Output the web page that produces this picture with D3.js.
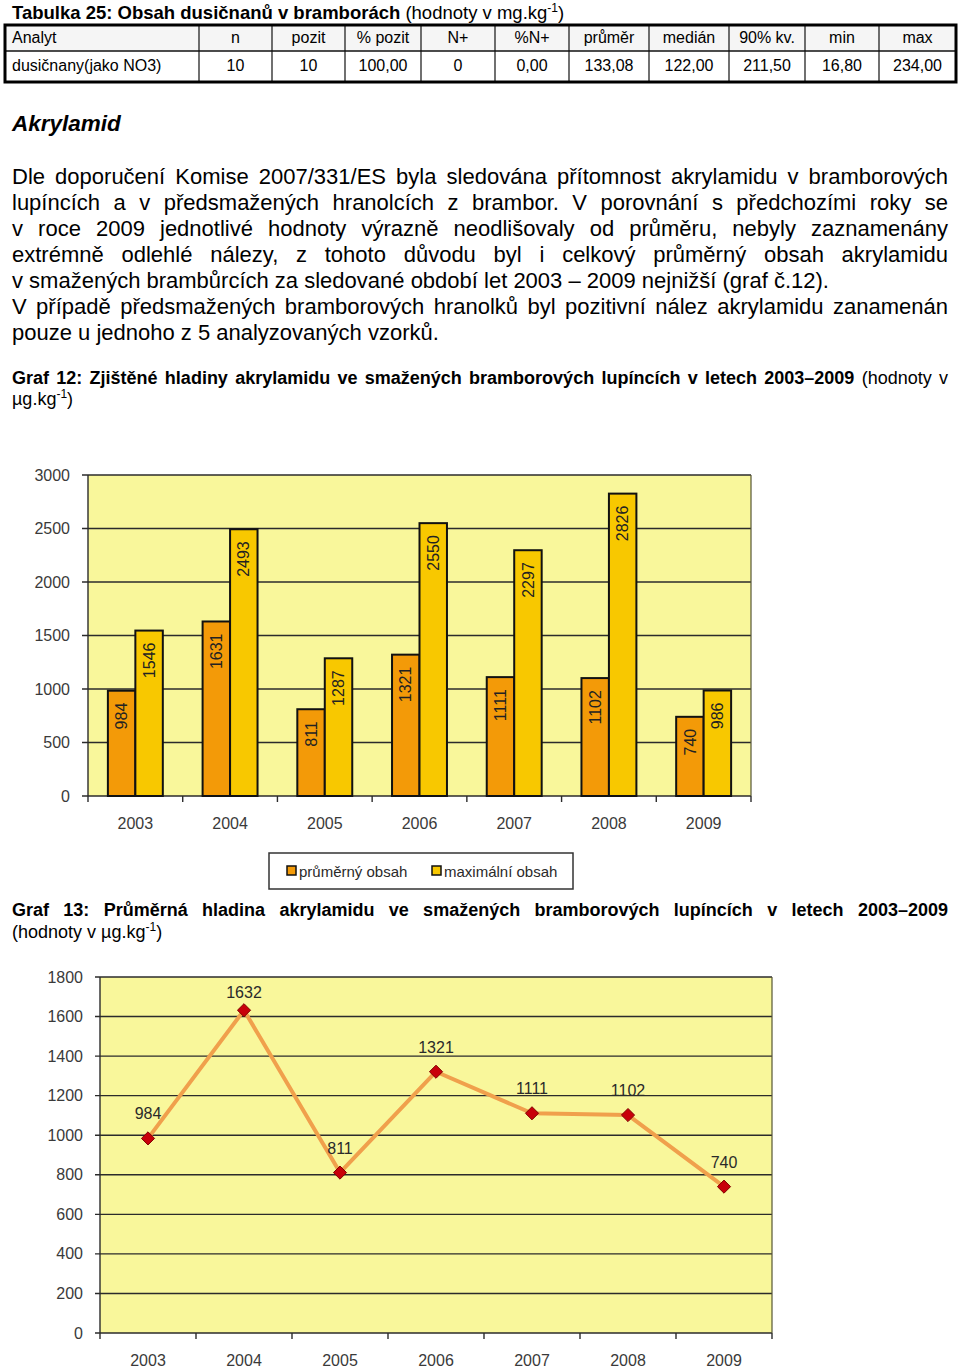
<!DOCTYPE html>
<html><head><meta charset="utf-8">
<script src="https://cdn.jsdelivr.net/npm/d3@7/dist/d3.min.js"></script>
<style>
html,body{margin:0;padding:0;background:#fff;}
svg{display:block;font-family:"Liberation Sans",Arial,sans-serif;}
</style></head>
<body>
<svg id="page" width="960" height="1369"></svg>
<script>
// ---------- DATA ----------
const tableHeader = ["Analyt","n","pozit","% pozit","N+","%N+","průměr","medián","90% kv.","min","max"];
const tableRow = ["dusičnany(jako NO3)","10","10","100,00","0","0,00","133,08","122,00","211,50","16,80","234,00"];

const years = ["2003","2004","2005","2006","2007","2008","2009"];
const avgContent = [984, 1631, 811, 1321, 1111, 1102, 740];
const maxContent = [1546, 2493, 1287, 2550, 2297, 2826, 986];
const barTicks = [0, 500, 1000, 1500, 2000, 2500, 3000];

const lineValues = [984, 1632, 811, 1321, 1111, 1102, 740];
const lineTicks = [0, 200, 400, 600, 800, 1000, 1200, 1400, 1600, 1800];

const legendLabels = ["průměrný obsah", "maximální obsah"];

const paragraph = [
  ["Dle doporučení Komise 2007/331/ES byla sledována přítomnost akrylamidu v bramborových", true],
  ["lupíncích a v předsmažených hranolcích z brambor. V porovnání s předchozími roky se", true],
  ["v roce 2009 jednotlivé hodnoty výrazně neodlišovaly od průměru, nebyly zaznamenány", true],
  ["extrémně odlehlé nálezy, z tohoto důvodu byl i celkový průměrný obsah akrylamidu", true],
  ["v smažených brambůrcích za sledované období let 2003 – 2009 nejnižší (graf č.12).", false],
  ["V případě předsmažených bramborových hranolků byl pozitivní nález akrylamidu zanamenán", true],
  ["pouze u jednoho z 5 analyzovaných vzorků.", false]
];

// ---------- COLORS ----------
const C_AVG = "#F39A08", C_MAX = "#F8C800", C_BG = "#F9F79B", C_GRID = "#2b2b2b";

const svg = d3.select("#page");
const LEFT = 12, RIGHT = 948;

function justify(textSel, width){
  const node = textSel.node();
  const w = node.getComputedTextLength();
  const s = (textSel.text().match(/ /g) || []).length;
  if (s > 0) textSel.attr("word-spacing", (width - w) / s);
}

// ---------- TITLE ----------
const title = svg.append("text").attr("x", LEFT).attr("y", 18.5).attr("font-size", 18.5);
title.append("tspan").attr("font-weight", "bold").text("Tabulka 25: Obsah dusičnanů v bramborách");
title.append("tspan").text(" (hodnoty v mg.kg");
title.append("tspan").attr("font-size", 12).attr("dy", -7).text("-1");
title.append("tspan").attr("dy", 7).text(")");

// ---------- TABLE ----------
const colEdges = [5,199,272,345,421,495,569,649,729,805,879,956];
const tTop = 25, tMid = 51, tBot = 82;
const tg = svg.append("g");
tg.append("rect").attr("x", colEdges[0]).attr("y", tTop).attr("width", colEdges[11]-colEdges[0]).attr("height", tMid-tTop).attr("fill", "#f5f5f5");
tg.append("rect").attr("x", colEdges[0]).attr("y", tMid).attr("width", colEdges[11]-colEdges[0]).attr("height", tBot-tMid).attr("fill", "#fff");
tg.selectAll("line.v").data(colEdges.slice(1, 11)).join("line")
  .attr("x1", d => d).attr("x2", d => d).attr("y1", tTop).attr("y2", tBot)
  .attr("stroke", "#111").attr("stroke-width", 1.2);
tg.append("line").attr("x1", colEdges[0]).attr("x2", colEdges[11]).attr("y1", tMid).attr("y2", tMid).attr("stroke", "#111").attr("stroke-width", 1.5);
tg.append("rect").attr("x", colEdges[0]).attr("y", tTop).attr("width", colEdges[11]-colEdges[0]).attr("height", tBot-tTop)
  .attr("fill", "none").attr("stroke", "#000").attr("stroke-width", 3);
function tableText(arr, y){
  tg.selectAll(null).data(arr).join("text")
    .attr("x", (d, i) => i === 0 ? LEFT : (colEdges[i] + colEdges[i+1]) / 2)
    .attr("y", y).attr("font-size", 16)
    .attr("text-anchor", (d, i) => i === 0 ? "start" : "middle")
    .text(d => d);
}
tableText(tableHeader, 43);
tableText(tableRow, 71);

// ---------- HEADING ----------
svg.append("text").attr("x", LEFT).attr("y", 131).attr("font-size", 22.5)
  .attr("font-weight", "bold").attr("font-style", "italic").text("Akrylamid");

// ---------- PARAGRAPH ----------
paragraph.forEach(([line, just], i) => {
  const t = svg.append("text").attr("x", LEFT).attr("y", 183.5 + i * 26).attr("font-size", 22).text(line);
  if (just) justify(t, RIGHT - LEFT);
});

// ---------- CAPTION 12 ----------
const c12 = svg.append("text").attr("x", LEFT).attr("y", 383.5).attr("font-size", 18);
c12.append("tspan").attr("font-weight", "bold").text("Graf 12: Zjištěné hladiny akrylamidu ve smažených bramborových lupíncích v letech 2003–2009");
c12.append("tspan").text(" (hodnoty v");
justify(c12, RIGHT - LEFT);
const c12b = svg.append("text").attr("x", LEFT).attr("y", 405).attr("font-size", 18);
c12b.append("tspan").text("µg.kg");
c12b.append("tspan").attr("font-size", 12).attr("dy", -7).text("-1");
c12b.append("tspan").attr("dy", 7).text(")");

// ---------- BAR CHART ----------
{
  const x0 = 88, x1 = 751, yT = 475, yB = 796;
  const x = d3.scaleBand().domain(years).range([x0, x1]).padding(0);
  const y = d3.scaleLinear().domain([0, 3000]).range([yB, yT]);
  const bw = x.bandwidth() * 0.29;
  const g = svg.append("g");
  g.append("rect").attr("x", x0).attr("y", yT).attr("width", x1 - x0).attr("height", yB - yT).attr("fill", C_BG);
  g.selectAll("line.grid").data(barTicks).join("line")
    .attr("x1", x0 - 6).attr("x2", x1).attr("y1", d => y(d)).attr("y2", d => y(d))
    .attr("stroke", C_GRID).attr("stroke-width", 1.4);
  g.append("line").attr("x1", x0).attr("x2", x0).attr("y1", yT).attr("y2", yB).attr("stroke", C_GRID).attr("stroke-width", 1.4);
  g.append("line").attr("x1", x1).attr("x2", x1).attr("y1", yT).attr("y2", yB).attr("stroke", "#555533").attr("stroke-width", 1.2);
  const bounds = years.map(d => x(d)).concat([x1]);
  g.selectAll("line.xt").data(bounds).join("line")
    .attr("x1", d => d).attr("x2", d => d).attr("y1", yB).attr("y2", yB + 6)
    .attr("stroke", C_GRID).attr("stroke-width", 1.4);
  g.selectAll("text.yl").data(barTicks).join("text")
    .attr("x", 70).attr("y", d => y(d)).attr("dy", "0.35em").attr("text-anchor", "end")
    .attr("font-size", 16).attr("fill", "#3a3a3a").text(d => d);
  g.selectAll("text.xl").data(years).join("text")
    .attr("x", d => x(d) + x.bandwidth() / 2).attr("y", 829).attr("text-anchor", "middle")
    .attr("font-size", 16).attr("fill", "#3a3a3a").text(d => d);
  const series = [
    {vals: avgContent, color: C_AVG, off: -bw},
    {vals: maxContent, color: C_MAX, off: 0}
  ];
  series.forEach(s => {
    const cx = (i) => x(years[i]) + x.bandwidth() / 2 + s.off;
    g.selectAll(null).data(s.vals).join("rect")
      .attr("x", (d, i) => cx(i)).attr("y", d => y(d))
      .attr("width", bw).attr("height", d => yB - y(d))
      .attr("fill", s.color).attr("stroke", "#111").attr("stroke-width", 2);
    g.selectAll(null).data(s.vals).join("text")
      .attr("transform", (d, i) => `translate(${cx(i) + bw / 2},${y(d) + 12}) rotate(-90)`)
      .attr("text-anchor", "end").attr("dy", "0.35em")
      .attr("font-size", 16).attr("fill", "#222").text(d => d);
  });
  // legend
  const lg = svg.append("g");
  lg.append("rect").attr("x", 269).attr("y", 853).attr("width", 304).attr("height", 36)
    .attr("fill", "#fff").attr("stroke", "#333").attr("stroke-width", 1.5);
  const lx = [287, 432];
  [C_AVG, C_MAX].forEach((c, i) => {
    lg.append("rect").attr("x", lx[i]).attr("y", 866).attr("width", 9).attr("height", 9)
      .attr("fill", c).attr("stroke", "#111").attr("stroke-width", 1.5);
    lg.append("text").attr("x", lx[i] + 12).attr("y", 876.5).attr("font-size", 15)
      .attr("fill", "#2a2a2a").text(legendLabels[i]);
  });
}

// ---------- CAPTION 13 ----------
const c13 = svg.append("text").attr("x", LEFT).attr("y", 915.5).attr("font-size", 18).attr("font-weight", "bold")
  .text("Graf 13: Průměrná hladina akrylamidu ve smažených bramborových lupíncích v letech 2003–2009");
justify(c13, RIGHT - LEFT);
const c13b = svg.append("text").attr("x", LEFT).attr("y", 937.5).attr("font-size", 18);
c13b.append("tspan").text("(hodnoty v µg.kg");
c13b.append("tspan").attr("font-size", 12).attr("dy", -7).text("-1");
c13b.append("tspan").attr("dy", 7).text(")");

// ---------- LINE CHART ----------
{
  const x0 = 100, x1 = 772, yT = 977, yB = 1333;
  const x = d3.scaleBand().domain(years).range([x0, x1]).padding(0);
  const y = d3.scaleLinear().domain([0, 1800]).range([yB, yT]);
  const g = svg.append("g");
  g.append("rect").attr("x", x0).attr("y", yT).attr("width", x1 - x0).attr("height", yB - yT).attr("fill", C_BG);
  g.selectAll(null).data(lineTicks).join("line")
    .attr("x1", x0 - 5).attr("x2", x1).attr("y1", d => y(d)).attr("y2", d => y(d))
    .attr("stroke", C_GRID).attr("stroke-width", 1.4);
  g.append("line").attr("x1", x0).attr("x2", x0).attr("y1", yT).attr("y2", yB).attr("stroke", C_GRID).attr("stroke-width", 1.4);
  g.append("line").attr("x1", x1).attr("x2", x1).attr("y1", yT).attr("y2", yB).attr("stroke", "#555533").attr("stroke-width", 1.2);
  const bounds = years.map(d => x(d)).concat([x1]);
  g.selectAll(null).data(bounds).join("line")
    .attr("x1", d => d).attr("x2", d => d).attr("y1", yB).attr("y2", yB + 6)
    .attr("stroke", C_GRID).attr("stroke-width", 1.4);
  g.selectAll(null).data(lineTicks).join("text")
    .attr("x", 83).attr("y", d => y(d)).attr("dy", "0.35em").attr("text-anchor", "end")
    .attr("font-size", 16).attr("fill", "#3a3a3a").text(d => d);
  g.selectAll(null).data(years).join("text")
    .attr("x", d => x(d) + x.bandwidth() / 2).attr("y", 1366).attr("text-anchor", "middle")
    .attr("font-size", 16).attr("fill", "#3a3a3a").text(d => d);
  const cx = (i) => x(years[i]) + x.bandwidth() / 2;
  const line = d3.line().x((d, i) => cx(i)).y(d => y(d));
  g.append("path").datum(lineValues).attr("d", line).attr("fill", "none")
    .attr("stroke", "#F0A04C").attr("stroke-width", 4).attr("stroke-linejoin", "round");
  const sym = d3.symbol().type(d3.symbolDiamond2).size(110);
  g.selectAll(null).data(lineValues).join("path")
    .attr("d", sym).attr("transform", (d, i) => `translate(${cx(i)},${y(d)})`)
    .attr("fill", "#C8000A").attr("stroke", "#800000").attr("stroke-width", 1);
  g.selectAll(null).data(lineValues).join("text")
    .attr("x", (d, i) => cx(i)).attr("y", d => Math.max(y(d) - 19, yT + 21)).attr("text-anchor", "middle")
    .attr("font-size", 16).attr("fill", "#2a2a2a").text(d => d);
}
</script>
</body></html>
